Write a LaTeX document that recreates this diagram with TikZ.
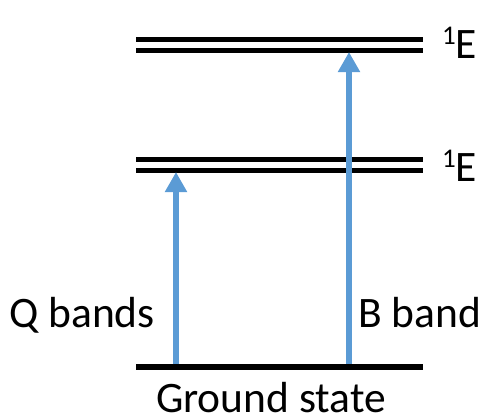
\documentclass[tikz,border=0pt]{standalone}
\usepackage{fontspec}
\setmainfont{Carlito}
\usepackage{xcolor}
\usetikzlibrary{arrows.meta,positioning}
\definecolor{bandblue}{HTML}{5B9BD5}

\begin{document}
\begin{tikzpicture}[x=1pt, y=-1pt,
  level/.style={line width=5.5pt, black},
  excite/.style={line width=6pt, bandblue, -{Triangle[width=21pt,length=20pt]}, shorten >=-1pt},
  lbl/.style={inner sep=0pt, font=\fontsize{43.5}{50}\selectfont}]
\useasboundingbox (0,0) rectangle (484,418);
% ground level and the two excited levels
\coordinate (g0) at (136,367); \coordinate (g1) at (423,367);
\coordinate (qa0) at (136,159.7); \coordinate (qa1) at (423,159.7);
\coordinate (qb0) at (136,170.3); \coordinate (qb1) at (423,170.3);
\coordinate (ba0) at (136,39.7); \coordinate (ba1) at (423,39.7);
\coordinate (bb0) at (136,50.7); \coordinate (bb1) at (423,50.7);
\draw[level] (g0) -- (g1);
\draw[level] (qa0) -- (qa1);
\draw[level] (qb0) -- (qb1);
\draw[level] (ba0) -- (ba1);
\draw[level] (bb0) -- (bb1);
% transitions
\coordinate (qfoot) at (176,364); \coordinate (qtip) at (176,173);
\coordinate (bfoot) at (349,364); \coordinate (btip) at (349,53);
\draw[excite] (qfoot) -- (qtip);
\draw[excite] (bfoot) -- (btip);
% labels
\node[lbl, anchor=base west] (eb) at (442,58) {\raisebox{14pt}{\fontsize{27}{27}\selectfont 1}E};
\node[lbl, anchor=base west] (eq) at (442,181) {\raisebox{14pt}{\fontsize{27}{27}\selectfont 1}E};
\node[lbl, anchor=base east] (qlab) at (155,327) {Q bands};
\node[lbl, anchor=base west] (blab) at (358,327) {B band};
\node[lbl, anchor=base] (glab) at (271,412) {Ground state};
\end{tikzpicture}
\end{document}
